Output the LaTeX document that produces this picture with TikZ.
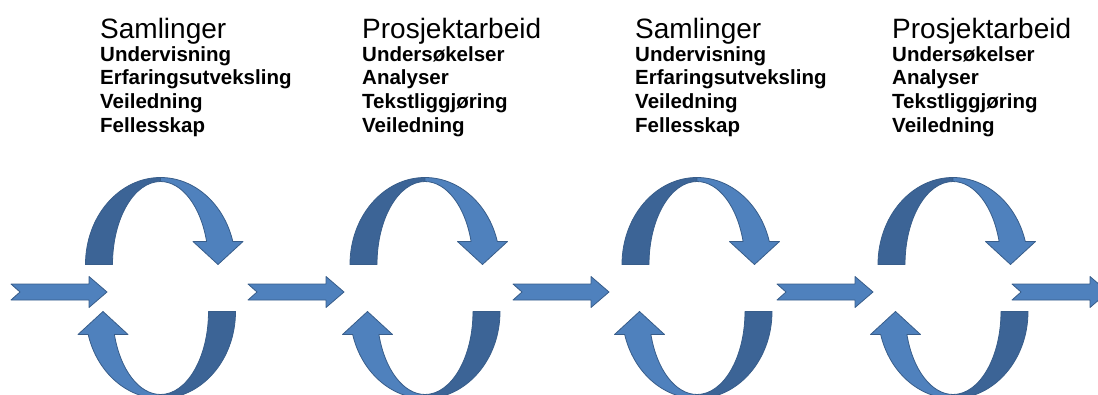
\documentclass[tikz,border=0pt]{standalone}
\usepackage{fontspec}
\setmainfont{Liberation Sans}
\usetikzlibrary{positioning}

\definecolor{ringlight}{RGB}{79,129,189}
\definecolor{ringdark}{RGB}{60,100,150}
\definecolor{ringline}{RGB}{56,93,138}

\begin{document}
\begin{tikzpicture}[
    x=1pt, y=-1pt,
    heading/.style={anchor=base west, inner sep=0pt, font=\fontsize{28}{30}\selectfont},
    items/.style={inner sep=0pt, align=left, font=\fontsize{20.5}{23.7}\selectfont\bfseries},
    band/.style={draw=ringline, line width=0.8pt, line join=round},
    halfturn/.pic={
        \filldraw[band, fill=ringdark] (-75,-23.5) arc[start angle=180, end angle=270, x radius=75, y radius=87]
            -- (0,-106.5) arc[start angle=270, end angle=180, x radius=48, y radius=83] -- cycle;
        \filldraw[band, fill=ringlight] (0,-110.5) arc[start angle=270, end angle=344.7, x radius=75, y radius=87]
            -- (82.5,-46.5) -- (57.5,-23.5) -- (32.5,-46.5) -- (46.1,-46.5)
            arc[start angle=343.9, end angle=270, x radius=48, y radius=83] -- cycle;
    },
    turn/.pic={
        \pic {halfturn};
        \pic[rotate=180] {halfturn};
    },
    notched/.pic={
        \filldraw[band, fill=ringlight] (0,-8) -- (78,-8) -- (78,-15.5) -- (96,0) -- (78,15.5) -- (78,8) -- (0,8) -- (9,0) -- cycle;
    }
]
\clip (0,0) rectangle (1098,394);

% Headings
\node (saml_one) [heading] at (100,38) {Samlinger};
\node (saml_one_list) [items, below right=8pt and 0pt of saml_one.base west] {Undervisning\\Erfaringsutveksling\\Veiledning\\Fellesskap};
\node (pros_one) [heading] at (362,38) {Prosjektarbeid};
\node (pros_one_list) [items, below right=8pt and 0pt of pros_one.base west] {Undersøkelser\\Analyser\\Tekstliggjøring\\Veiledning};
\node (saml_two) [heading] at (635,38) {Samlinger};
\node (saml_two_list) [items, below right=8pt and 0pt of saml_two.base west] {Undervisning\\Erfaringsutveksling\\Veiledning\\Fellesskap};
\node (pros_two) [heading] at (892,38) {Prosjektarbeid};
\node (pros_two_list) [items, below right=8pt and 0pt of pros_two.base west] {Undersøkelser\\Analyser\\Tekstliggjøring\\Veiledning};

% Cycles
\pic (turn_one) at (160.5,288) {turn};
\pic (turn_two) at (425,288) {turn};
\pic (turn_three) at (697,288) {turn};
\pic (turn_four) at (953,288) {turn};

% Arrows between cycles
\pic (step_one) at (11,292) {notched};
\pic (step_two) at (248,292) {notched};
\pic (step_three) at (513,292) {notched};
\pic (step_four) at (777,292) {notched};
\pic (step_five) at (1012,292) {notched};

\end{tikzpicture}
\end{document}
